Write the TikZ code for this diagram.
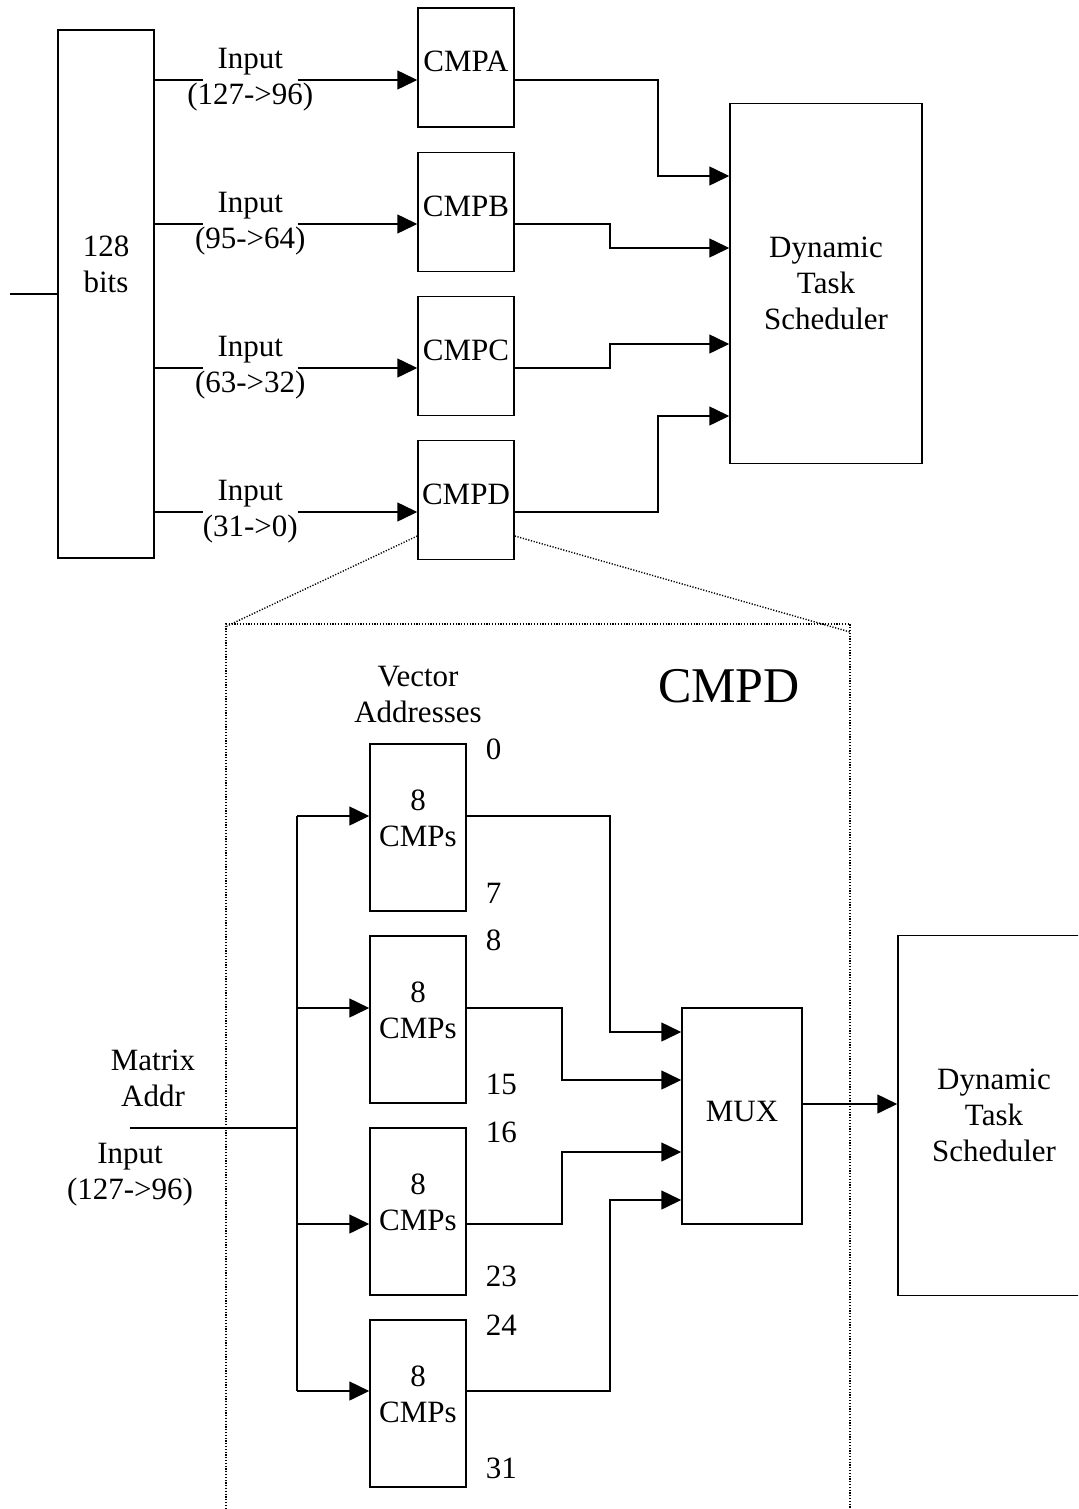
\documentclass[tikz,border=0pt]{standalone}
\usepackage{fontspec}
\setmainfont{Liberation Serif}
\usetikzlibrary{positioning,calc,arrows.meta}

\newcommand{\inrange}[1]{\makebox[47.5pt]{Input}\\\makebox[47.5pt]{(#1)}}

\begin{document}
\begin{tikzpicture}[x=0.5pt, y=-0.5pt, line width=0.75pt,
  every node/.style={align=center, inner sep=0pt, font=\fontsize{15.5pt}{18pt}\selectfont},
  blk/.style={draw, rectangle},
  cmpbox/.style={blk, minimum width=48pt, minimum height=59.5pt},
  octbox/.style={blk, minimum width=48pt, minimum height=83.5pt},
  schedbox/.style={blk, minimum width=96pt, minimum height=180pt},
  conn/.style={-{Triangle[length=10pt, width=9.5pt]}},
  inlbl/.style={fill=white},
  zoomline/.style={line width=0.7pt, dash pattern=on 0.6pt off 0.8pt}]
\useasboundingbox (0,0) rectangle (1078,1509);
\clip (0,0) rectangle (1078,1509);

% Word register and comparators
\node (bits) [blk, minimum width=48pt, minimum height=264pt] at (106,294) {};
\node (bits-t) at (106,264) {128\\bits};
\node (cmpa) [cmpbox] at (466,67.5) {};
\node (cmpb) [cmpbox] at (466,212) {};
\node (cmpc) [cmpbox] at (466,356) {};
\node (cmpd) [cmpbox] at (466,500) {};
\node (cmpa-t) at ($(cmpa)+(0,-6)$) {CMPA};
\node (cmpb-t) at ($(cmpb)+(0,-6)$) {CMPB};
\node (cmpc-t) at ($(cmpc)+(0,-6)$) {CMPC};
\node (cmpd-t) at ($(cmpd)+(0,-6)$) {CMPD};
\node (dts) [schedbox] at (826,283.5) {Dynamic\\Task\\Scheduler};

% Input slices
\coordinate (bitsin) at (10,294);
\draw (bitsin) -- (bits.west);
\draw[conn] (bits.east |- 0,80) -- node (ina) [inlbl, pos=0.364] {\inrange{127->96}} (cmpa.west |- 0,80);
\draw[conn] (bits.east |- 0,224) -- node (inb) [inlbl, pos=0.364] {\inrange{95->64}} (cmpb.west |- 0,224);
\draw[conn] (bits.east |- 0,368) -- node (inc) [inlbl, pos=0.364] {\inrange{63->32}} (cmpc.west |- 0,368);
\draw[conn] (bits.east |- 0,512) -- node (ind) [inlbl, pos=0.364] {\inrange{31->0}} (cmpd.west |- 0,512);

% To the scheduler
\draw[conn] (cmpa.east |- 0,80) -| (658,176) -- (dts.west |- 0,176);
\draw[conn] (cmpb.east |- 0,224) -| (610,248) -- (dts.west |- 0,248);
\draw[conn] (cmpc.east |- 0,368) -| (610,344) -- (dts.west |- 0,344);
\draw[conn] (cmpd.east |- 0,512) -| (658,416) -- (dts.west |- 0,416);

% Zoom into CMPD
\coordinate (zl) at (226,624);
\coordinate (zr) at (850,624);
\draw[zoomline] (cmpd.west |- 0,536) -- (227,626);
\draw[zoomline] (cmpd.east |- 0,536) -- (850,632);
\draw[zoomline] (226,1520) -- (zl) -- (zr) -- (850,1520);
\node (cmpdbig) [font=\fontsize{25pt}{30pt}\selectfont] at (729,686) {CMPD};

% Inside CMPD
\node (vecaddr) at (418,694.5) {Vector\\Addresses};
\node (v1) [octbox] at (418,827.5) {};
\node (v2) [octbox] at (418,1019.5) {};
\node (v3) [octbox] at (418,1211.5) {};
\node (v4) [octbox] at (418,1403.5) {};
\node (v1-t) at ($(v1)+(0,-9)$) {8\\CMPs};
\node (v2-t) at ($(v2)+(0,-9)$) {8\\CMPs};
\node (v3-t) at ($(v3)+(0,-9)$) {8\\CMPs};
\node (v4-t) at ($(v4)+(0,-9)$) {8\\CMPs};
\node (n0) [anchor=west] at (485,749) {0};
\node (n7) [anchor=west] at (485,893) {7};
\node (n8) [anchor=west] at (485,940) {8};
\node (n15) [anchor=west] at (485,1084) {15};
\node (n16) [anchor=west] at (485,1132) {16};
\node (n23) [anchor=west] at (485,1276) {23};
\node (n24) [anchor=west] at (485,1325) {24};
\node (n31) [anchor=west] at (485,1468) {31};

\node (mux) [blk, minimum width=60pt, minimum height=108pt] at (742,1116) {};
\node (mux-t) at ($(mux)+(0,-5)$) {MUX};
\node (dts2) [schedbox] at (994,1115.5) {Dynamic\\Task\\Scheduler};

% Matrix address bus
\coordinate (mtxin) at (130,1128);
\coordinate (bus) at (297,1128);
\node (mtxlbl) at (153,1078.5) {Matrix\\Addr};
\node (mtxin-t) at (130,1175) {Input\\(127->96)};
\draw (mtxin) -- (bus);
\draw (bus |- 0,816) -- (bus |- 0,1391);
\draw[conn] (bus |- 0,816) -- (v1.west |- 0,816);
\draw[conn] (bus |- 0,1008) -- (v2.west |- 0,1008);
\draw[conn] (bus |- 0,1224) -- (v3.west |- 0,1224);
\draw[conn] (bus |- 0,1391) -- (v4.west |- 0,1391);

% Into the MUX
\draw[conn] (v1.east |- 0,816) -| (610,1032) -- (mux.west |- 0,1032);
\draw[conn] (v2.east |- 0,1008) -| (562,1080) -- (mux.west |- 0,1080);
\draw[conn] (v3.east |- 0,1224) -| (562,1152) -- (mux.west |- 0,1152);
\draw[conn] (v4.east |- 0,1391) -| (610,1200) -- (mux.west |- 0,1200);
\draw[conn] (mux.east |- 0,1104) -- (dts2.west |- 0,1104);
\end{tikzpicture}
\end{document}
